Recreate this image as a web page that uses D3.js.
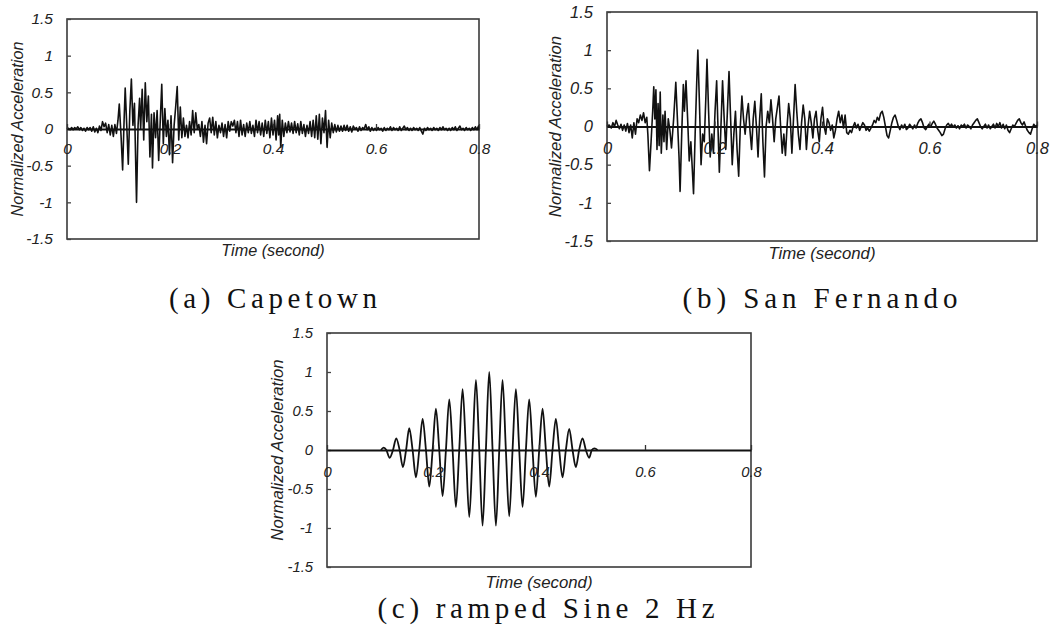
<!DOCTYPE html>
<html>
<head>
<meta charset="utf-8">
<script src="https://cdn.jsdelivr.net/npm/d3@7"></script>
<style>
  body { margin: 0; background: #fff; }
  svg { display: block; }
</style>
</head>
<body>
<div id="chart"></div>
<script>
// tick values and labels shared by the three panels
var xTicks = [0, 0.2, 0.4, 0.6, 0.8];
var xTickLabels = ["0", "0.2", "0.4", "0.6", "0.8"];
var yTicks = [-1.5, -1, -0.5, 0, 0.5, 1, 1.5];
var yTickLabels = ["-1.5", "-1", "-0.5", "0", "0.5", "1", "1.5"];
var xTitle = "Time (second)";
var yTitle = "Normalized Acceleration";
var captions = ["(a) Capetown", "(b) San Fernando", "(c) ramped Sine 2 Hz"];

// [time (s), normalized acceleration]
var capetown = [
  [0,0],[0.003,0.01],[0.006,-0.01],[0.009,0.02],[0.012,-0.01],[0.015,0.02],[0.018,0.0],[0.021,0.03],[0.024,-0.01],[0.027,0.02],
  [0.030,-0.02],[0.033,0.01],[0.036,-0.03],[0.039,0.02],[0.042,-0.01],[0.045,0.02],[0.048,-0.03],[0.051,0.03],[0.054,-0.04],[0.057,0.01],
  [0.060,-0.05],[0.063,0.04],[0.066,-0.02],[0.069,0.1],[0.072,0.03],[0.075,0.08],[0.078,-0.05],[0.081,0.06],[0.084,-0.08],[0.087,0.05],
  [0.090,-0.1],[0.093,0.06],[0.096,-0.06],[0.099,0.12],[0.1015,0.34],[0.105,-0.1],[0.108,-0.56],[0.111,0.15],[0.113,0.56],[0.116,0.05],
  [0.119,-0.48],[0.122,0.25],[0.125,0.68],[0.128,0.05],[0.131,0.35],[0.135,-1.0],[0.138,0.05],[0.141,0.42],[0.143,0.0],[0.146,0.54],
  [0.149,-0.15],[0.152,0.63],[0.155,0.1],[0.158,0.45],[0.161,-0.38],[0.164,0.2],[0.166,-0.53],[0.169,0.22],[0.172,-0.12],[0.175,0.25],
  [0.178,-0.43],[0.181,0.1],[0.184,0.61],[0.187,-0.2],[0.190,0.28],[0.193,-0.1],[0.196,0.12],[0.199,-0.35],[0.202,0.18],[0.205,-0.46],
  [0.208,0.05],[0.211,0.3],[0.214,0.58],[0.217,-0.15],[0.220,0.3],[0.223,-0.12],[0.226,0.15],[0.229,-0.1],[0.232,0.05],[0.235,-0.12],
  [0.238,0.1],[0.241,-0.08],[0.244,0.25],[0.247,-0.05],[0.250,0.22],[0.253,0.0],[0.256,0.06],[0.259,-0.1],[0.262,0.1],[0.265,-0.18],
  [0.268,0.05],[0.271,-0.2],[0.274,0.08],[0.277,0.15],[0.280,-0.05],[0.283,0.16],[0.286,-0.08],[0.289,0.1],[0.292,-0.12],[0.295,0.05],
  [0.298,-0.05],[0.301,0.08],[0.304,-0.1],[0.307,0.06],[0.310,-0.12],[0.313,0.1],[0.316,-0.03],[0.319,0.1],[0.322,0.04],[0.325,0.12],
  [0.328,-0.05],[0.331,0.1],[0.334,-0.1],[0.337,0.12],[0.340,-0.08],[0.343,0.06],[0.346,-0.1],[0.349,0.08],[0.352,-0.05],[0.355,0.1],
  [0.358,-0.06],[0.361,0.05],[0.364,-0.1],[0.367,0.12],[0.370,-0.05],[0.373,0.1],[0.376,-0.08],[0.379,0.08],[0.382,-0.1],[0.385,0.12],
  [0.388,-0.06],[0.391,0.1],[0.394,-0.12],[0.397,0.15],[0.400,-0.08],[0.403,0.12],[0.406,-0.15],[0.409,0.18],[0.411,-0.08],[0.413,0.2],
  [0.415,-0.25],[0.418,0.12],[0.421,-0.1],[0.424,0.08],[0.427,-0.05],[0.430,0.1],[0.433,-0.04],[0.436,0.08],[0.439,-0.06],[0.442,0.1],
  [0.445,-0.05],[0.448,0.07],[0.451,-0.08],[0.454,0.1],[0.457,-0.06],[0.460,0.06],[0.463,-0.1],[0.466,0.05],[0.469,-0.06],[0.472,0.1],
  [0.475,-0.1],[0.478,0.12],[0.481,-0.12],[0.484,0.18],[0.487,-0.14],[0.490,0.2],[0.493,-0.2],[0.496,0.15],[0.499,-0.05],[0.502,0.25],
  [0.505,-0.25],[0.508,0.12],[0.511,-0.12],[0.514,0.08],[0.517,-0.05],[0.520,0.06],[0.523,-0.04],[0.526,0.05],[0.529,-0.03],[0.532,0.04],
  [0.535,-0.03],[0.538,0.05],[0.541,-0.02],[0.544,0.05],[0.547,-0.03],[0.550,0.03],[0.553,-0.04],[0.556,0.04],[0.559,0.0],[0.562,0.02],
  [0.565,-0.03],[0.568,0.03],[0.571,-0.02],[0.574,0.02],[0.577,0.0],[0.580,0.06],[0.583,-0.01],[0.586,0.03],[0.589,-0.03],[0.592,0.02],
  [0.595,-0.02],[0.598,0.01],[0.601,-0.02],[0.604,0.02],[0.607,-0.01],[0.610,0.01],[0.613,-0.03],[0.616,0.02],[0.619,-0.02],[0.622,0.01],
  [0.625,-0.01],[0.628,0.03],[0.631,-0.02],[0.634,0.02],[0.637,-0.01],[0.640,0.01],[0.643,-0.02],[0.646,0.03],[0.649,-0.02],[0.652,0.01],
  [0.655,0.04],[0.658,-0.01],[0.661,0.02],[0.664,-0.02],[0.667,0.01],[0.670,-0.02],[0.673,0.02],[0.676,-0.01],[0.679,0.01],[0.682,-0.02],
  [0.685,0.02],[0.688,-0.03],[0.691,-0.07],[0.694,0.01],[0.697,-0.02],[0.700,0.02],[0.703,-0.01],[0.706,0.01],[0.709,-0.02],[0.712,0.02],
  [0.715,-0.01],[0.718,0.01],[0.721,-0.02],[0.724,0.02],[0.727,-0.01],[0.730,0.03],[0.733,-0.01],[0.736,0.01],[0.739,-0.02],[0.742,0.01],
  [0.745,-0.02],[0.748,0.02],[0.751,-0.01],[0.754,0.03],[0.757,-0.02],[0.760,0.01],[0.763,0.04],[0.766,-0.01],[0.769,0.01],[0.772,-0.02],
  [0.775,0.02],[0.778,-0.01],[0.781,0.01],[0.784,-0.02],[0.787,0.02],[0.790,-0.01],[0.793,0.03],[0.796,-0.01],[0.799,0.04],[0.800,0.0]
];

var sanFernando = [
  [0,0],[0.004,0.02],[0.008,-0.02],[0.011,0.05],[0.014,0.0],[0.017,0.08],[0.020,0.02],[0.023,-0.03],[0.026,0.03],[0.029,-0.05],
  [0.032,0.02],[0.035,-0.06],[0.038,0.04],[0.041,-0.08],[0.044,0.02],[0.047,-0.15],[0.050,0.05],[0.053,-0.1],[0.056,0.1],[0.059,0.05],
  [0.062,0.15],[0.065,0.08],[0.068,0.18],[0.071,0.05],[0.074,0.12],[0.076,-0.1],[0.079,-0.58],[0.082,-0.2],[0.085,0.2],[0.087,0.52],
  [0.089,0.1],[0.091,0.48],[0.093,-0.3],[0.095,0.3],[0.097,-0.25],[0.099,0.45],[0.101,-0.35],[0.104,0.15],[0.106,-0.2],[0.108,0.2],
  [0.111,-0.3],[0.114,0.1],[0.117,-0.05],[0.120,-0.28],[0.124,0.1],[0.128,0.58],[0.131,0.1],[0.134,-0.4],[0.136,-0.85],[0.139,-0.1],
  [0.142,0.55],[0.144,0.2],[0.147,0.6],[0.150,0.1],[0.153,-0.45],[0.156,-0.2],[0.159,-0.6],[0.161,-0.88],[0.164,-0.1],[0.167,0.6],
  [0.169,1.0],[0.172,0.3],[0.175,-0.5],[0.178,-0.1],[0.181,-0.2],[0.184,0.4],[0.186,0.88],[0.189,0.2],[0.192,-0.4],[0.195,-0.1],
  [0.198,-0.35],[0.201,0.2],[0.204,0.6],[0.206,0.1],[0.209,-0.6],[0.212,0.0],[0.215,0.6],[0.218,0.1],[0.221,-0.3],[0.224,0.2],
  [0.227,0.72],[0.230,0.1],[0.233,-0.5],[0.236,-0.1],[0.239,0.2],[0.242,-0.3],[0.245,-0.65],[0.248,0.0],[0.251,0.4],[0.254,0.1],
  [0.257,-0.1],[0.260,0.15],[0.263,0.3],[0.266,-0.05],[0.269,-0.3],[0.272,0.1],[0.275,0.33],[0.278,0.0],[0.281,-0.4],[0.284,0.1],
  [0.287,0.43],[0.290,-0.2],[0.293,-0.66],[0.296,0.0],[0.299,0.2],[0.302,0.05],[0.305,0.35],[0.308,0.1],[0.311,-0.2],[0.314,0.1],
  [0.317,0.25],[0.320,0.4],[0.323,0.0],[0.326,-0.35],[0.329,-0.1],[0.332,-0.38],[0.335,0.0],[0.338,0.3],[0.341,0.1],[0.344,-0.35],
  [0.347,0.1],[0.350,0.55],[0.353,0.2],[0.356,-0.1],[0.359,-0.3],[0.362,0.05],[0.365,0.28],[0.368,0.1],[0.371,-0.3],[0.374,0.0],
  [0.377,0.2],[0.380,0.05],[0.383,-0.15],[0.386,0.1],[0.389,0.2],[0.392,-0.05],[0.395,-0.2],[0.398,0.1],[0.401,0.25],[0.404,0.0],
  [0.407,-0.1],[0.410,0.1],[0.413,0.05],[0.416,-0.05],[0.419,0.02],[0.422,-0.15],[0.425,-0.05],[0.428,0.1],[0.431,0.2],[0.434,0.05],
  [0.437,0.15],[0.440,-0.02],[0.443,0.15],[0.446,-0.08],[0.449,-0.1],[0.452,-0.05],[0.455,-0.08],[0.458,0.0],[0.461,0.05],[0.464,-0.02],
  [0.467,0.03],[0.470,-0.05],[0.473,0.0],[0.476,0.05],[0.479,0.02],[0.482,-0.05],[0.485,-0.02],[0.488,-0.06],[0.491,-0.02],[0.494,0.02],
  [0.497,0.08],[0.500,0.05],[0.503,0.12],[0.506,0.08],[0.509,0.17],[0.512,0.2],[0.515,0.12],[0.518,0.0],[0.521,-0.12],[0.524,-0.15],
  [0.527,-0.05],[0.530,0.05],[0.533,0.12],[0.536,0.15],[0.539,0.08],[0.542,0.0],[0.545,-0.04],[0.548,0.02],[0.551,-0.02],[0.554,0.03],
  [0.557,-0.04],[0.560,-0.02],[0.563,0.03],[0.566,0.0],[0.569,-0.03],[0.572,0.02],[0.575,-0.02],[0.578,0.04],[0.581,0.08],[0.584,0.1],
  [0.587,0.05],[0.590,-0.02],[0.593,-0.04],[0.596,0.0],[0.599,0.03],[0.602,-0.01],[0.605,0.04],[0.608,0.07],[0.611,0.03],[0.614,-0.02],
  [0.617,-0.05],[0.620,-0.08],[0.623,-0.12],[0.626,-0.1],[0.629,-0.03],[0.632,0.02],[0.635,0.04],[0.638,0.0],[0.641,0.03],[0.644,-0.01],
  [0.647,0.02],[0.650,-0.02],[0.653,0.01],[0.656,-0.03],[0.659,0.02],[0.662,0.0],[0.665,0.03],[0.668,-0.02],[0.671,0.02],[0.674,0.0],
  [0.677,-0.03],[0.680,0.02],[0.683,0.05],[0.686,0.08],[0.689,0.1],[0.692,0.05],[0.695,0.0],[0.698,-0.03],[0.701,0.0],[0.704,0.03],
  [0.707,-0.02],[0.710,0.02],[0.713,-0.03],[0.716,0.0],[0.719,0.03],[0.722,-0.02],[0.725,0.04],[0.728,0.0],[0.731,0.05],[0.734,-0.02],
  [0.737,0.03],[0.740,-0.03],[0.743,0.02],[0.746,-0.05],[0.749,-0.08],[0.752,-0.03],[0.755,0.02],[0.758,0.0],[0.761,0.04],[0.764,0.08],
  [0.767,0.1],[0.770,0.05],[0.773,0.02],[0.776,0.06],[0.779,0.0],[0.782,-0.05],[0.785,-0.08],[0.788,-0.1],[0.791,-0.03],[0.794,0.03],
  [0.797,0.0],[0.800,0.02]
];

// peaks and zero crossings of the ramped sine
var rampedSine = [
  [0.1018,0],[0.1069,0.03],[0.1120,0],[0.1182,-0.10],[0.1245,0],[0.1307,0.15],[0.1370,0],[0.1433,-0.22],[0.1492,0],[0.1552,0.28],
  [0.1615,0],[0.1678,-0.35],[0.1741,0],[0.1804,0.40],[0.1867,0],[0.1930,-0.47],[0.1993,0],[0.2055,0.53],[0.2118,0],[0.2181,-0.59],
  [0.2244,0],[0.2307,0.65],[0.2370,0],[0.2432,-0.73],[0.2495,0],[0.2558,0.78],[0.2621,0],[0.2684,-0.86],[0.2747,0],[0.2810,0.90],
  [0.2873,0],[0.2935,-0.97],[0.2998,0],[0.3061,1.00],[0.3124,0],[0.3187,-0.97],[0.3250,0],[0.3312,0.90],[0.3375,0],[0.3438,-0.85],
  [0.3501,0],[0.3564,0.78],[0.3627,0],[0.3690,-0.73],[0.3753,0],[0.3815,0.65],[0.3878,0],[0.3941,-0.60],[0.4004,0],[0.4067,0.53],
  [0.4130,0],[0.4192,-0.47],[0.4255,0],[0.4318,0.40],[0.4381,0],[0.4444,-0.35],[0.4507,0],[0.4570,0.27],[0.4633,0],[0.4695,-0.22],
  [0.4758,0],[0.4821,0.15],[0.4884,0],[0.4947,-0.10],[0.4997,0],[0.5047,0.02],[0.5104,0]
];

var w = 1053;
var h = 629;

// where each panel sits on the page
var panels = [
  { data: capetown, caption: captions[0], left: 67, right: 479, top: 19, bottom: 239,
    tickFont: 15.5, titleFont: 16.2, labelGap: 20, yTitleX: 17, xTitleY: 250,
    capX: 273, capY: 308, capW: 208, curve: d3.curveLinear, lineW: 1.6 },
  { data: sanFernando, caption: captions[1], left: 607, right: 1037, top: 12, bottom: 241,
    tickFont: 16.5, titleFont: 16.8, labelGap: 21, yTitleX: 555, xTitleY: 253,
    capX: 820, capY: 308, capW: 275, curve: d3.curveLinear, lineW: 1.6 },
  { data: rampedSine, caption: captions[2], left: 327, right: 751, top: 333, bottom: 567,
    tickFont: 14.8, titleFont: 16.8, labelGap: 22, yTitleX: 277, xTitleY: 582,
    capX: 546, capY: 618, capW: 337, curve: d3.curveMonotoneX, lineW: 1.8 }
];

var svg = d3.select("#chart")
  .append("svg")
  .attr("width", w)
  .attr("height", h);

function drawPanel(p) {
  var xScale = d3.scaleLinear().domain([0, 0.8]).range([p.left, p.right]);
  var yScale = d3.scaleLinear().domain([-1.5, 1.5]).range([p.bottom, p.top]);
  var g = svg.append("g");

  //plot frame
  g.append("rect")
    .attr("x", p.left)
    .attr("y", p.top)
    .attr("width", p.right - p.left)
    .attr("height", p.bottom - p.top)
    .attr("fill", "none")
    .attr("stroke", "#3a3a3a")
    .attr("stroke-width", 1.6);

  //y axis, ticks pointing inside
  var yAxis = d3.axisLeft(yScale)
    .tickValues(yTicks)
    .tickFormat((d, i) => yTickLabels[i])
    .tickSizeInner(-4)
    .tickSizeOuter(0)
    .tickPadding(14);

  var gy = g.append("g")
    .attr("transform", "translate(" + p.left + ",0)")
    .call(yAxis);
  gy.select(".domain").remove();
  gy.selectAll("line").attr("stroke", "#444").attr("stroke-width", 1.3);
  gy.selectAll("text")
    .attr("font-family", "'Liberation Sans', Arial, sans-serif")
    .attr("font-style", "italic")
    .attr("font-size", p.tickFont)
    .attr("fill", "#222");

  //the record itself
  var line = d3.line()
    .x((d) => xScale(d[0]))
    .y((d) => yScale(d[1]))
    .curve(p.curve);

  g.append("path")
    .datum(p.data)
    .attr("d", line)
    .attr("fill", "none")
    .attr("stroke", "#111")
    .attr("stroke-width", p.lineW)
    .attr("stroke-linejoin", "round");

  //x axis on the zero line, labels hang below it
  var xAxis = d3.axisBottom(xScale)
    .tickValues(xTicks)
    .tickFormat((d, i) => xTickLabels[i])
    .tickSizeInner(-5)
    .tickSizeOuter(0)
    .tickPadding(p.labelGap - 5.6);

  var gx = g.append("g")
    .attr("transform", "translate(0," + yScale(0) + ")")
    .call(xAxis);
  gx.select(".domain").attr("stroke", "#111").attr("stroke-width", 1.8);
  gx.selectAll("line").attr("stroke", "#333").attr("stroke-width", 1.3);
  gx.selectAll("text")
    .attr("font-family", "'Liberation Sans', Arial, sans-serif")
    .attr("font-style", "italic")
    .attr("font-size", p.tickFont)
    .attr("fill", "#222");

  //axis titles
  g.append("text")
    .attr("x", (p.left + p.right) / 2)
    .attr("y", p.xTitleY)
    .attr("dy", "0.35em")
    .attr("text-anchor", "middle")
    .attr("font-family", "'Liberation Sans', Arial, sans-serif")
    .attr("font-style", "italic")
    .attr("font-size", p.titleFont)
    .attr("fill", "#222")
    .text(xTitle);

  g.append("text")
    .attr("transform", "translate(" + p.yTitleX + "," + (p.top + p.bottom) / 2 + ") rotate(-90)")
    .attr("dy", "0.35em")
    .attr("text-anchor", "middle")
    .attr("font-family", "'Liberation Sans', Arial, sans-serif")
    .attr("font-style", "italic")
    .attr("font-size", p.titleFont)
    .attr("fill", "#222")
    .text(yTitle);

  //caption under the panel, spread to the original's width
  g.append("text")
    .attr("x", p.capX - p.capW / 2)
    .attr("y", p.capY)
    .attr("textLength", p.capW)
    .attr("lengthAdjust", "spacing")
    .attr("font-family", "'Liberation Serif', 'Times New Roman', serif")
    .attr("font-size", 29)
    .attr("fill", "#111")
    .text(p.caption);
}

panels.forEach(drawPanel);
</script>
</body>
</html>
